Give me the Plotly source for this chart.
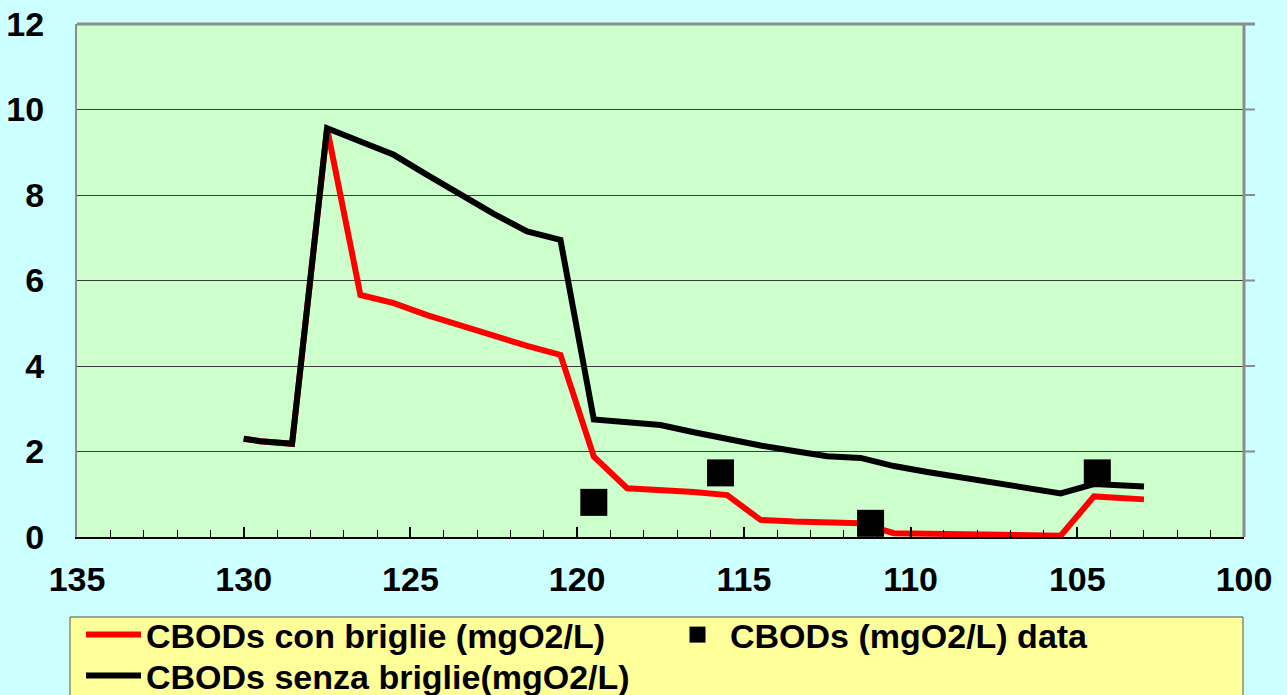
import plotly.graph_objects as go

# ---- data ----
distance_km = [130, 129.5, 128.55, 127.5, 126.5, 125.5, 124.5, 123.5, 122.5, 121.5, 120.5,
               119.5, 118.5, 117.5, 116.5, 115.5, 114.5, 113.5, 112.5, 111.5, 110.5,
               109.5, 108.5, 107.5, 106.5, 105.5, 104.5, 103.5, 103]
cbod_con_briglie = [2.30, 2.24, 2.18, 9.56, 5.66, 5.47, 5.19, 4.94, 4.70, 4.47, 4.26,
                    1.88, 1.14, 1.10, 1.05, 0.98, 0.40, 0.36, 0.34, 0.32, 0.09,
                    0.08, 0.07, 0.05, 0.02, 0.03, 0.95, 0.88, 0.88]
cbod_senza_briglie = [2.30, 2.24, 2.18, 9.56, 9.25, 8.94, 8.47, 8.00, 7.56, 7.15, 6.95,
                      2.75, 2.68, 2.62, 2.45, 2.29, 2.14, 2.01, 1.89, 1.85, 1.66,
                      1.52, 1.39, 1.27, 1.15, 1.02, 1.24, 1.18, 1.18]
data_km = [119.5, 115.7, 111.2, 104.4]
data_cbod = [0.81, 1.50, 0.32, 1.50]

name_con = "CBODs con briglie (mgO2/L)"
name_data = "CBODs (mgO2/L) data"
name_senza = "CBODs senza briglie(mgO2/L)"

x_ticks = [135, 130, 125, 120, 115, 110, 105, 100]
y_ticks = [0, 2, 4, 6, 8, 10, 12]

# ---- layout geometry ----
W, H = 1287, 695
ML, MR, MT, MB = 77, 43, 24, 158
PW, PH = W - ML - MR, H - MT - MB

FONT = dict(family="Liberation Sans, Arial, sans-serif", size=34, color="black", weight="bold")
GRAY = "#8c8c8c"

fig = go.Figure()
fig.add_trace(go.Scatter(x=distance_km, y=cbod_con_briglie, mode="lines", name=name_con,
                         line=dict(color="#ff0000", width=6), legend="legend"))
fig.add_trace(go.Scatter(x=distance_km, y=cbod_senza_briglie, mode="lines", name=name_senza,
                         line=dict(color="#000000", width=6), legend="legend2"))
fig.add_trace(go.Scatter(x=data_km, y=data_cbod, mode="markers", name=name_data,
                         marker=dict(symbol="square", size=27, color="#000000"), legend="legend"))

def px_x(px):
    return (px - ML) / PW

def px_y(py):
    return (H - MB - py) / PH

shapes = [
    # legend box
    dict(type="rect", xref="paper", yref="paper", x0=px_x(70), x1=px_x(1243),
         y0=px_y(617), y1=px_y(705), fillcolor="#ffff99", line=dict(color="#555555", width=1),
         layer="below"),
    # top and right borders of plot area
    dict(type="line", xref="paper", yref="paper", x0=0, x1=px_x(ML + PW + 11), y0=1, y1=1,
         line=dict(color=GRAY, width=3)),
    dict(type="line", xref="paper", yref="paper", x0=1, x1=1, y0=0, y1=1,
         line=dict(color=GRAY, width=3)),
]
for t in y_ticks[1:-1]:
    shapes.append(dict(type="line", xref="paper", yref="y", x0=1, x1=px_x(ML + PW + 11),
                       y0=t, y1=t, line=dict(color=GRAY, width=2)))

legend_common = dict(orientation="h", bgcolor="rgba(0,0,0,0)", borderwidth=0, font=FONT,
                     xanchor="left", yanchor="middle", itemwidth=55,
                     entrywidth=514, entrywidthmode="pixels", traceorder="normal")

fig.update_layout(
    width=W, height=H,
    margin=dict(l=ML, r=MR, t=MT, b=MB, autoexpand=False),
    paper_bgcolor="#ccffff",
    plot_bgcolor="#ccffcc",
    font=FONT,
    showlegend=True,
    legend=dict(**legend_common, x=px_x(81), y=px_y(635)),
    legend2=dict(**legend_common, x=px_x(81), y=px_y(676)),
    shapes=shapes,
    xaxis=dict(range=[135, 100], tickvals=x_ticks, ticks="inside", ticklen=10, tickwidth=2,
               tickcolor="black", showline=True, linecolor="black", linewidth=2,
               showgrid=False, zeroline=False, ticklabelstandoff=11,
               minor=dict(dtick=1, ticks="inside", ticklen=7, tickwidth=1, tickcolor="black",
                          showgrid=False),
               tickfont=FONT),
    yaxis=dict(range=[0, 12], tickvals=y_ticks, ticks="", showline=True, linecolor=GRAY,
               linewidth=2, showgrid=True, gridcolor="#3c3c3c", gridwidth=1, zeroline=False,
               ticklabelstandoff=24, tickfont=FONT),
)

fig.write_html("out.html", config={"displayModeBar": False},
               post_script="document.body.style.margin='0px';document.body.style.overflow='hidden';")
